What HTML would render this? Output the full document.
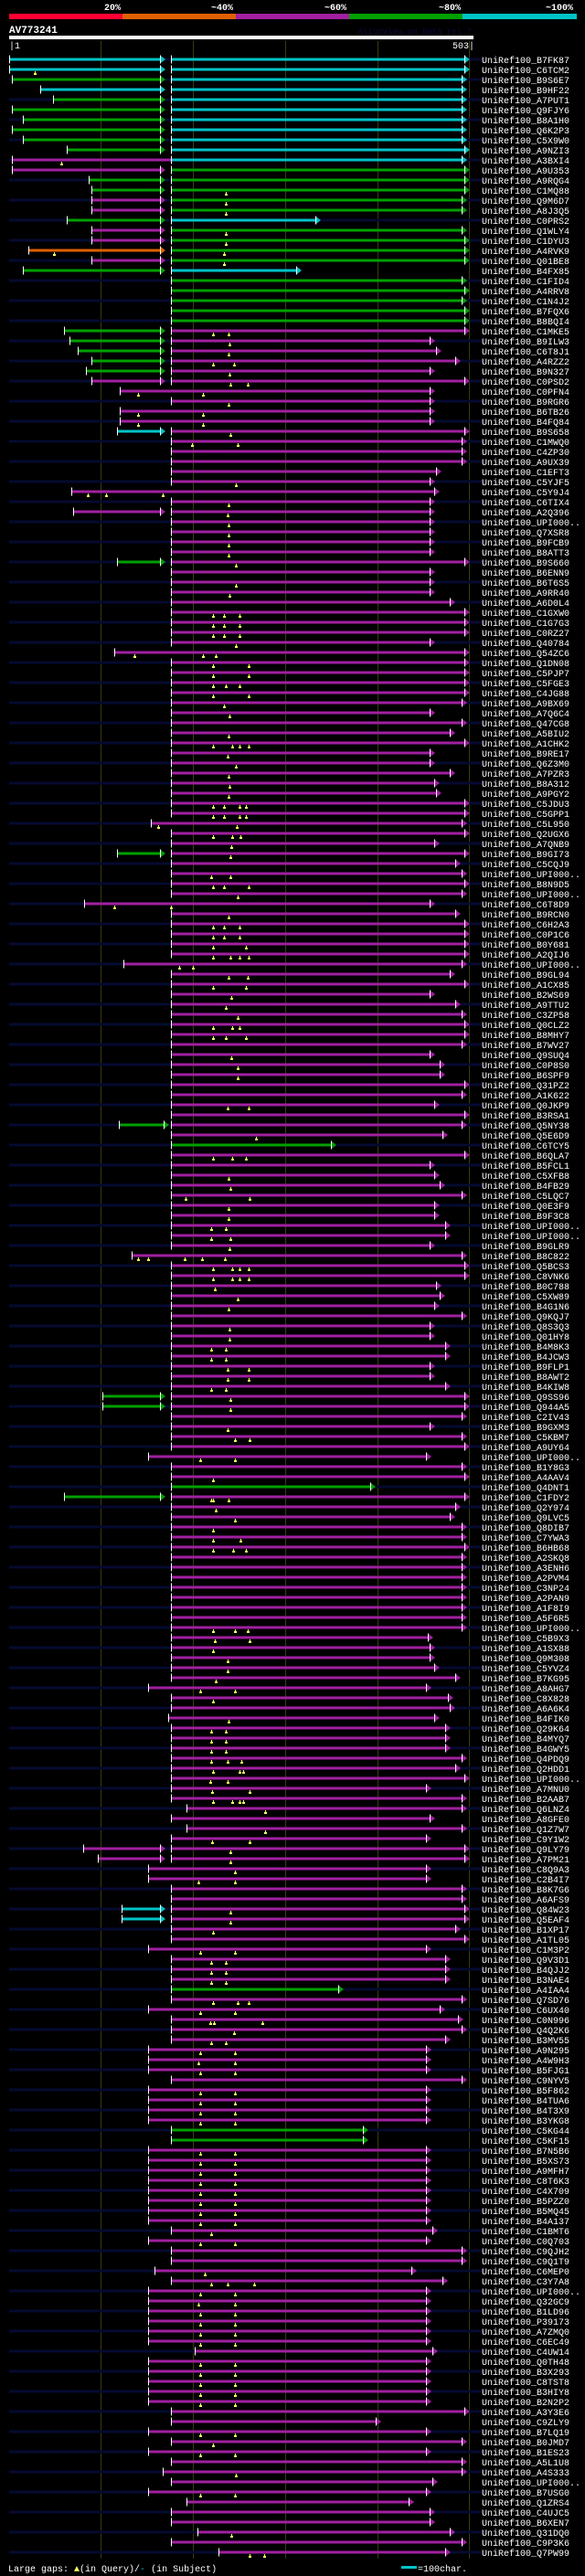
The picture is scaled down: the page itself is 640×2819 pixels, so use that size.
<!DOCTYPE html>
<html><head><meta charset="utf-8"><title>AV773241 alignment view</title>
<style>
html,body{margin:0;padding:0;background:#000;}
body{width:640px;height:2819px;overflow:hidden;font-family:"Liberation Mono",monospace;}
svg{display:block;}
</style></head>
<body>
<svg id="chart" width="640" height="2819" viewBox="0 0 640 2819" xmlns="http://www.w3.org/2000/svg">
  <rect width="640" height="2819" fill="#000"/>
  <g>
    <rect x="10" y="15" width="124" height="6" fill="#ff0033"/>
    <rect x="134" y="15" width="124" height="6" fill="#e06000"/>
    <rect x="258" y="15" width="124" height="6" fill="#a020a0"/>
    <rect x="382" y="15" width="124" height="6" fill="#00a000"/>
    <rect x="506" y="15" width="125" height="6" fill="#00c4c8"/>
    <g font-family="Liberation Mono, monospace" font-size="10" font-weight="bold" fill="#fff" text-anchor="middle">
      <text x="123" y="11">20%</text>
      <text x="243" y="11">~40%</text>
      <text x="367" y="11">~60%</text>
      <text x="492" y="11">~80%</text>
      <text x="612" y="11">~100%</text>
    </g>
  </g>
  <text x="10" y="36" font-family="Liberation Mono, monospace" font-size="11" font-weight="bold" fill="#fff">AV773241</text>
  <text x="516" y="37" text-anchor="end" font-family="Liberation Mono, monospace" font-size="9" fill="#0a0a38">AlignView.pm Beta rel.7</text>
  <rect x="10" y="39" width="508" height="4" fill="#fff"/>
  <text x="10" y="53" font-family="Liberation Mono, monospace" font-size="10" fill="#fff">|1</text>
  <text x="519" y="53" text-anchor="end" font-family="Liberation Mono, monospace" font-size="10" fill="#fff">503|</text>
  <g id="grid"></g>
  <g id="rows"></g>
  <g>
    <text x="9" y="2814" font-family="Liberation Mono, monospace" font-size="10" fill="#fff">Large gaps: <tspan fill="#ffff60">▲</tspan>(in Query)/<tspan fill="#00c4c8">-</tspan> (in Subject)</text>
    <rect x="439" y="2808" width="17" height="3" fill="#00c4c8"/>
    <text x="457" y="2814" font-family="Liberation Mono, monospace" font-size="10" fill="#fff">=100char.</text>
  </g>
</svg>
<script>
// Row spec: name | left HSP (startColor[end]) | right HSP start-endColor | query gap positions
const rows = [
"B7FK87|0c|177-503c|","C6TCM2|0c|177-503c|28","B9S6E7|3g|177-500c|","B9HF22|34c|177-500c|",
"A7PUT1|48g|177-500c|","Q9FJY6|3g|177-500c|","B8A1H0|15g|177-500c|","Q6K2P3|3g|177-500c|",
"C5X9W0|15g|177-500c|","A9NZI3|63g|177-503c|","A3BXI4|3m177|177-500c|57","A9U353|3m|177-503g|",
"A9RQG4|87g|177-503g|","C1MQ88|90g|177-503g|237","Q9M6D7|90m|177-500g|237","A8J3Q5|90m|177-500g|237",
"C0PRS2|63g|177-340c|","Q1WLY4|90m|177-500g|237","C1DYU3|90m|177-503g|237","A4RVK9|21o|177-503g|49,235",
"Q01BE8|90m|177-503g|235","B4FX85|15g|177-319c|","C1FID4||177-500g|","A4RRV8||177-503g|",
"C1N4J2||177-500g|","B7FQX6||177-503g|","B8BQI4||177-503g|","C1MKE5|60g|177-503m|223,240",
"B9ILW3|66g|177-465m|241","C6T8J1|75g|177-472m|240","A4RZZ2|90g|177-493m|223,246","B9N327|84g|177-465m|241",
"C0PSD2|90m|177-503m|242,261","C0PFN4||121-465m|141,212","B9RGR6||177-465m|240","B6TB26||121-465m|141,212",
"B4FQ84||121-465m|141,212","B9S658|118c|177-503m|242","C1MWQ0||177-500m|200,250","C4ZP30||177-500m|",
"A9UX39||177-500m|","C1EFT3||177-472m|","C5YJF5||177-465m|248","C5Y9J4||68-470m|86,106,168",
"C6TIX4||177-465m|240","A2Q396|70m|177-465m|239","UPI000..||177-465m|240","Q7XSR8||177-465m|240",
"B9FCB9||177-465m|240","B8ATT3||177-465m|240","B9S660|118g|177-503m|248","B6ENN9||177-465m|",
"B6T6S5||177-465m|248","A9RR40||177-465m|241","A6D0L4||177-487m|","C1GXW0||177-503m|223,235,252",
"C1G7G3||177-503m|223,235,252","C0RZ27||177-503m|223,235,252","Q40784||177-465m|248","Q54ZC6||115-503m|137,212,226",
"Q1DN08||177-503m|223,262","C5PJP7||177-503m|223,262","C5FGE3||177-503m|223,237,252","C4JG88||177-503m|223,262",
"A9BX69||177-500m|235","A7Q6C4||177-465m|241","Q47CG8||177-500m|","A5BIU2||177-487m|240",
"A1CHK2||177-503m|223,244,252,262","B9RE17||177-465m|239","Q6Z3M0||177-465m|248","A7PZR3||177-487m|240",
"B8A312||177-470m|241","A9PGY2||177-472m|240","C5JDU3||177-503m|223,235,252,259","C5GPP1||177-503m|223,235,252,259",
"C5L950||155-500m|163,249","Q2UGX6||177-503m|223,244,253","A7QNB9||177-470m|243","B9GI73|118g|177-503m|242",
"C5CQJ9||177-493m|","UPI000..||177-500m|221,242","B8N9D5||177-503m|223,235,262","UPI000..||177-500m|250",
"C6T8D9||82-465m|115,177","B9RCN0||177-493m|240","C6H2A3||177-503m|223,235,252","C0P1C6||177-503m|223,235,252",
"B0Y681||177-503m|223,259","A2QIJ6||177-503m|223,242,252,262","UPI000..||125-500m|186,201","B9GL94||177-487m|240,261",
"A1CX85||177-503m|223,259","B2WS69||177-465m|243","A9TTU2||177-493m|237","C3ZP58||177-500m|250",
"Q0CLZ2||177-503m|223,244,252","B8MHY7||177-503m|223,237,259","B7WV27||177-500m|","Q9SUQ4||177-465m|243",
"C0P8S0||177-476m|250","B6SPF9||177-476m|250","Q31PZ2||177-503m|","A1K622||177-500m|",
"Q0JKP9||177-470m|239,262","B3RSA1||177-503m|","Q5NY38|120g174|177-500m|","Q5E6D9||177-479m|270",
"C6TCY5||177-357g|","B6QLA7||177-503m|223,244,259","B5FCL1||177-465m|","C5XFB8||177-470m|240",
"B4FB29||177-476m|242","C5LQC7||177-500m|193,263","Q0E3F9||177-470m|240","B9F3C8||177-470m|240",
"UPI000..||177-482m|221,237","UPI000..||177-482m|221,242","B9GLR9||177-465m|241","B8C822||134-500m|141,152,192,211,236",
"Q5BCS3||177-503m|223,244,252,262","C8VNK6||177-503m|223,244,252,262","B0C788||177-472m|225","C5XW89||177-476m|250",
"B4G1N6||177-470m|240","Q9KQJ7||177-500m|","Q8S3Q3||177-465m|241","Q01HY8||177-465m|241",
"B4M8K3||177-482m|221,237","B4JCW3||177-482m|221,237","B9FLP1||177-465m|239,262","B8AWT2||177-465m|239,262",
"B4KIW8||177-482m|221,237","Q9SS96|102g|177-503m|242","Q944A5|102g|177-503m|242","C2IV43||177-500m|",
"B9GXM3||177-465m|239","C5KBM7||177-500m|247,263","A9UY64||177-503m|","UPI000..||152-461m|209,247",
"B1Y8G3||177-500m|","A4AAV4||177-503m|223","Q4DNT1||177-400g|","C1FDY2|60g|177-503m|221,223,240",
"Q2Y974||177-493m|226","Q9LVC5||177-487m|247","Q8DIB7||177-500m|223","C7YWA3||177-500m|223,253",
"B6HB68||177-503m|223,245,259","A2SKQ8||177-500m|","A3ENH6||177-500m|","A2PVM4||177-500m|",
"C3NP24||177-500m|","A2PAN9||177-500m|","A1F8I9||177-500m|","A5F6R5||177-500m|",
"UPI000..||177-500m|223,247,261","C5B9X3||177-463m|225,263","A1SX88||177-465m|223","Q9M308||177-465m|239",
"C5YVZ4||177-470m|239","B7KG95||177-493m|226","A8AHG7||152-461m|209,247","C8X828||177-485m|223",
"A6A6K4||177-487m|","B4FIK0||174-470m|240","Q29K64||177-482m|221,237","B4MYQ7||177-482m|221,237",
"B4GWY5||177-482m|221,237","Q4PDQ9||177-500m|221,239,254","Q2HDD1||177-493m|223,252,256","UPI000..||177-503m|220,239",
"A7MNU0||177-461m|222,263","B2AAB7||177-500m|223,244,252,256","Q6LNZ4||194-500m|280","A8GFE0||177-465m|",
"Q1Z7W7||194-500m|280","C9Y1W2||177-461m|222,263","Q9LY79|81m|177-503m|242","A7PM21|97m|177-503m|242",
"C8Q9A3||152-461m|247","C2B4I7||152-461m|207,247","B8K7G6||177-500m|","A6AFS9||177-500m|",
"Q84W23|123c|177-503m|242","Q5EAF4|123c|177-503m|242","B1XP17||177-493m|223","A1TL05||177-503m|",
"C1M3P2||152-461m|209,247","Q9V3D1||177-482m|221,237","B4QJJ2||177-482m|221,237","B3NAE4||177-482m|221,237",
"A4IAA4||177-365g|","Q7SD76||177-500m|223,250,262","C6UX40||152-476m|209,247","C0N996||177-496m|220,224,277",
"Q4Q2K6||177-500m|246","B3MV55||177-482m|221,237","A9N295||152-461m|209,247","A4W9H3||152-461m|207,247",
"B5FJG1||152-461m|209,247","C9NYV5||177-500m|","B5F862||152-461m|209,247","B4TUA6||152-461m|209,247",
"B4T3X9||152-461m|209,247","B3YKG8||152-461m|209,247","C5KG44||177-392g|","C5KF15||177-392g|",
"B7N5B6||152-461m|209,247","B5XS73||152-461m|209,247","A9MFH7||152-461m|209,247","C8T6K3||152-461m|209,247",
"C4X709||152-461m|209,247","B5PZZ0||152-461m|209,247","B5MQ45||152-461m|209,247","B4A137||152-461m|209,247",
"C1BMT6||177-468m|221","C0Q703||152-461m|209,247","C9QJH2||177-500m|","C9Q1T9||177-500m|",
"C6MEP0||159-445m|214","C3Y7A8||177-479m|221,239,268","UPI000..||152-461m|209,247","Q32GC9||152-461m|207,247",
"B1LD96||152-461m|209,247","P39173||152-461m|209,247","A7ZMQ0||152-461m|209,247","C6EC49||152-461m|209,247",
"C4UW14||203-468m|","Q0TH48||152-461m|209,247","B3X293||152-461m|209,247","C8TST8||152-461m|209,247",
"B3HIY8||152-461m|209,247","B2N2P2||152-461m|209,247","A3Y3E6||177-503m|","C9ZLY9||177-406m|",
"B7LQ19||152-461m|209,247","B0JMD7||177-500m|223","B1ES23||152-461m|209,247","A5L1U8||177-500m|",
"A4S333||168-500m|248","UPI000..||177-468m|","B7USG0||152-461m|209,247","Q1ZRS4||194-442m|",
"C4UJC5||177-465m|","B6XEN7||177-465m|","Q31DQ0||206-487m|243","C9P3K6||177-500m|","Q7PW99||229-482m|263,279"
];
const gridTicks = [100, 201, 302, 403, 503];
// parsed arrays (top level)
const names = rows.map(r => r.split('|')[0]);
const leftHsp = rows.map(r => r.split('|')[1]);
const rightHsp = rows.map(r => r.split('|')[2]);
const gapList = rows.map(r => r.split('|')[3]);

const COLORS = {c:'#00c4c8', g:'#00a000', m:'#a020a0', o:'#e06000', r:'#ff0033'};
const X0 = 10, ROW0 = 65, ROWH = 11;
function xs(p){ return X0 + p; }
function ys(k){ return ROW0 + k * ROWH; }
const NS = 'http://www.w3.org/2000/svg';
function mk(tag, attrs, parent){
  const e = document.createElementNS(NS, tag);
  for (const a in attrs) e.setAttribute(a, attrs[a]);
  parent.appendChild(e);
  return e;
}
const grid = document.getElementById('grid');
gridTicks.forEach(t => {
  const l = mk('line', {x1: xs(t)+0.5, x2: xs(t)+0.5, y1: 45, y2: 2800, stroke: '#3a3a12', 'stroke-width': 1}, grid);
  
  
});
const rowsG = document.getElementById('rows');
function drawHsp(g, s, e, col, y, arrow){
  const bar = mk('rect', {x: xs(s), y: y-1.5, width: Math.max(0, xs(e) - xs(s) - (arrow?5:0)), height: 3, fill: col}, g);
  
  
  const tick = mk('rect', {x: xs(s), y: y-4.5, width: 1, height: 9, fill: '#fff'}, g);
  
  
  if (arrow){
    const xe = xs(e);
    const tri = mk('polygon', {points: (xe-5)+','+(y-4.5)+' '+(xe+1)+','+y+' '+(xe-5)+','+(y+4.5), fill: col}, g);
    
    
    const base = mk('rect', {x: xe-5, y: y-4.5, width: 1, height: 9, fill: '#fff'}, g);
    
    
  }
}
names.forEach((nm, k) => {
  const y = ys(k);
  const g = mk('g', {}, rowsG);
  
  
  if (k % 2 === 0){
    const st = mk('rect', {x: 10, y: y-1.5, width: 517, height: 3, fill: '#060a30'}, g);
    
    
  }
  const L = leftHsp[k];
  if (L){
    const m = L.match(/^(\d+)([a-z])(\d+)?$/);
    const end = m[3] ? +m[3] : 170;
    drawHsp(g, +m[1], end, COLORS[m[2]], y, !m[3] || end < 177);
  }
  const R = rightHsp[k].match(/^(\d+)-(\d+)([a-z])$/);
  drawHsp(g, +R[1], +R[2], COLORS[R[3]], y, true);
  if (gapList[k]){
    gapList[k].split(',').forEach(p => {
      const gx = xs(+p);
      const gm = mk('path', {d: 'M'+(gx-1)+' '+(y+6)+'h3v-2h-1v-2h-1v2h-1z', fill: '#ffff60'}, g);
      
      
    });
  }
  const t = mk('text', {x: 527, y: y+4, fill: '#fff', 'font-family': 'Liberation Mono, monospace', 'font-size': 10}, g);
  t.textContent = 'UniRef100_' + nm;
  
  
});
</script>
</body></html>
